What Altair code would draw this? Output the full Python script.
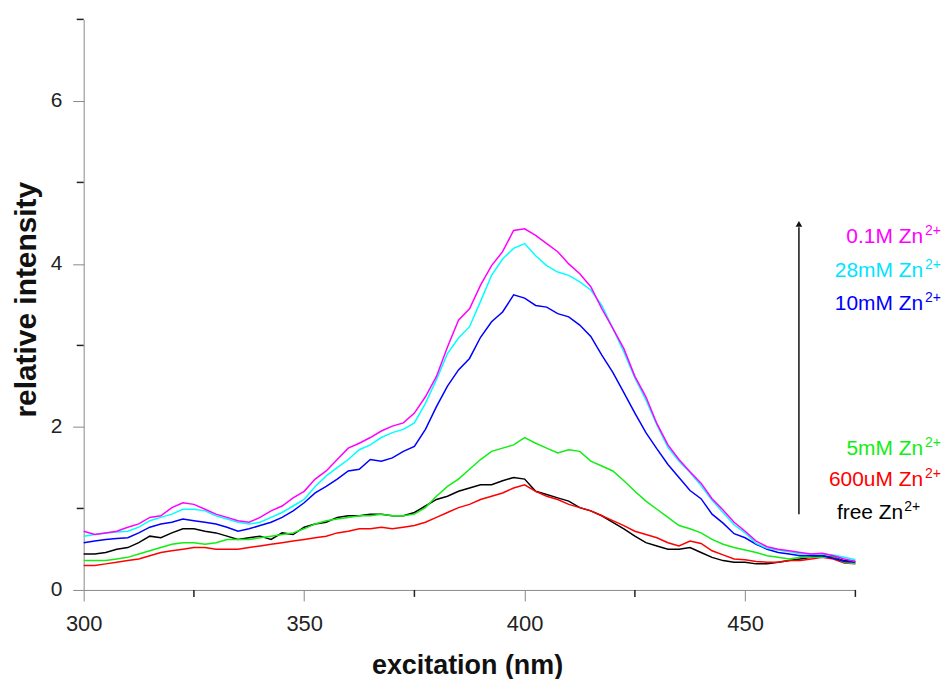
import altair as alt
import pandas as pd

# ---- data (excitation wavelength in nm, relative intensity) ----
wavelength = [300, 302.5, 305, 307.5, 310, 312.5, 315, 317.5, 320, 322.5, 325, 327.5,
              330, 332.5, 335, 337.5, 340, 342.5, 345, 347.5, 350, 352.5, 355, 357.5,
              360, 362.5, 365, 367.5, 370, 372.5, 375, 377.5, 380, 382.5, 385, 387.5,
              390, 392.5, 395, 397.5, 400, 402.5, 405, 407.5, 410, 412.5, 415, 417.5,
              420, 422.5, 425, 427.5, 430, 432.5, 435, 437.5, 440, 442.5, 445, 447.5,
              450, 452.5, 455, 457.5, 460, 462.5, 465, 467.5, 470, 472.5, 475]

free_zn = [0.44, 0.44, 0.46, 0.50, 0.52, 0.58, 0.66, 0.64, 0.70, 0.75, 0.75, 0.72,
           0.70, 0.66, 0.62, 0.64, 0.66, 0.62, 0.70, 0.68, 0.77, 0.81, 0.83, 0.89,
           0.91, 0.91, 0.93, 0.93, 0.91, 0.91, 0.95, 1.03, 1.11, 1.15, 1.21, 1.25,
           1.29, 1.29, 1.34, 1.38, 1.36, 1.21, 1.17, 1.13, 1.09, 1.01, 0.97, 0.91,
           0.83, 0.75, 0.66, 0.58, 0.54, 0.50, 0.50, 0.52, 0.46, 0.40, 0.36, 0.34,
           0.34, 0.32, 0.32, 0.34, 0.36, 0.38, 0.40, 0.42, 0.40, 0.36, 0.35]
zn_600uM = [0.30, 0.30, 0.32, 0.34, 0.36, 0.38, 0.42, 0.46, 0.48, 0.50, 0.52, 0.52,
            0.50, 0.50, 0.50, 0.52, 0.54, 0.56, 0.58, 0.60, 0.62, 0.64, 0.66, 0.70,
            0.72, 0.75, 0.75, 0.77, 0.75, 0.77, 0.79, 0.83, 0.89, 0.95, 1.01, 1.05,
            1.11, 1.15, 1.19, 1.25, 1.29, 1.21, 1.15, 1.11, 1.05, 1.01, 0.97, 0.91,
            0.85, 0.79, 0.72, 0.68, 0.64, 0.58, 0.54, 0.60, 0.57, 0.48, 0.43, 0.38,
            0.37, 0.35, 0.34, 0.34, 0.36, 0.36, 0.38, 0.40, 0.38, 0.33, 0.32]
zn_5mM = [0.36, 0.36, 0.36, 0.38, 0.40, 0.44, 0.48, 0.52, 0.56, 0.58, 0.58, 0.56,
          0.58, 0.62, 0.62, 0.62, 0.64, 0.66, 0.68, 0.70, 0.75, 0.81, 0.85, 0.87,
          0.89, 0.91, 0.91, 0.93, 0.91, 0.91, 0.93, 1.01, 1.15, 1.27, 1.36, 1.48,
          1.60, 1.70, 1.74, 1.78, 1.87, 1.80, 1.74, 1.68, 1.72, 1.70, 1.58, 1.52,
          1.46, 1.34, 1.21, 1.09, 0.99, 0.89, 0.79, 0.75, 0.70, 0.62, 0.56, 0.52,
          0.49, 0.46, 0.42, 0.40, 0.38, 0.40, 0.40, 0.40, 0.40, 0.34, 0.32]
zn_10mM = [0.58, 0.60, 0.62, 0.63, 0.64, 0.70, 0.77, 0.81, 0.83, 0.87, 0.85, 0.83,
           0.81, 0.77, 0.72, 0.75, 0.79, 0.83, 0.89, 0.97, 1.07, 1.19, 1.27, 1.36,
           1.46, 1.48, 1.60, 1.58, 1.62, 1.70, 1.76, 1.97, 2.25, 2.50, 2.70, 2.84,
           3.10, 3.29, 3.41, 3.62, 3.58, 3.49, 3.47, 3.39, 3.35, 3.25, 3.11, 2.88,
           2.67, 2.42, 2.17, 1.93, 1.73, 1.54, 1.38, 1.22, 1.12, 0.93, 0.82, 0.69,
           0.64, 0.56, 0.50, 0.46, 0.44, 0.42, 0.42, 0.42, 0.39, 0.35, 0.34]
zn_28mM = [0.66, 0.68, 0.70, 0.71, 0.72, 0.77, 0.85, 0.89, 0.93, 0.99, 0.99, 0.97,
           0.91, 0.87, 0.83, 0.81, 0.83, 0.89, 0.95, 1.03, 1.11, 1.27, 1.40, 1.50,
           1.60, 1.72, 1.78, 1.87, 1.93, 1.97, 2.05, 2.29, 2.58, 2.90, 3.09, 3.23,
           3.54, 3.86, 4.06, 4.19, 4.25, 4.10, 3.98, 3.90, 3.86, 3.78, 3.68, 3.49,
           3.21, 2.92, 2.60, 2.33, 2.02, 1.75, 1.58, 1.44, 1.28, 1.10, 0.95, 0.80,
           0.70, 0.57, 0.51, 0.49, 0.47, 0.44, 0.44, 0.44, 0.43, 0.40, 0.37]
zn_01M = [0.72, 0.68, 0.70, 0.72, 0.77, 0.81, 0.89, 0.91, 1.01, 1.07, 1.05, 0.99,
          0.93, 0.89, 0.85, 0.83, 0.89, 0.97, 1.03, 1.13, 1.21, 1.36, 1.46, 1.60,
          1.74, 1.80, 1.87, 1.95, 2.01, 2.05, 2.17, 2.37, 2.62, 2.98, 3.31, 3.45,
          3.74, 3.98, 4.15, 4.41, 4.43, 4.35, 4.25, 4.15, 4.00, 3.88, 3.72, 3.45,
          3.21, 2.96, 2.62, 2.37, 2.04, 1.78, 1.60, 1.45, 1.31, 1.12, 0.98, 0.83,
          0.72, 0.60, 0.53, 0.50, 0.48, 0.46, 0.44, 0.45, 0.42, 0.38, 0.35]

series_names = ["free", "600uM", "5mM", "10mM", "28mM", "0.1M"]
series_values = [free_zn, zn_600uM, zn_5mM, zn_10mM, zn_28mM, zn_01M]
series_colors = ["#000000", "#ff0000", "#11ee11", "#0000ff", "#00ffff", "#ff00ff"]

# annotation labels (text) and their anchor positions in data units
label_text = ["0.1M Zn", "28mM Zn", "10mM Zn", "5mM Zn", "600uM Zn", "free Zn"]
label_colors = ["#ff00ff", "#00e5ff", "#0000ff", "#11ee11", "#ff0000", "#000000"]
label_x = [490.35, 490.35, 490.35, 490.35, 490.35, 485.84]
label_y = [4.251, 3.836, 3.433, 1.661, 1.270, 0.867]
sup_x = [490.8, 490.8, 490.8, 490.8, 490.8, 486.1]
sup_y = [4.349, 3.934, 3.531, 1.759, 1.368, 0.965]
arrow_x = 462.2
arrow_y0 = 0.928
arrow_y1 = 4.45
arrow_tip = 4.49

x_major = [300, 350, 400, 450]
x_minor = [325, 375, 425, 475]
y_major = [0, 2, 4, 6]
y_minor = [1, 3, 5, 7]

W, H = 775, 573
FONT = "Liberation Sans"

xscale = alt.Scale(domain=[300, 475], nice=False, zero=False)
yscale = alt.Scale(domain=[0, 7], nice=False, zero=False)

x_axis = alt.Axis(values=x_major, tickSize=11, labelFontSize=22, labelPadding=13, format="d",
                  labelFlush=False, grid=False,
                  title="excitation (nm)", titleFontSize=27, titleFontWeight="bold",
                  titleX=385, titleY=84, titleAlign="center", titleBaseline="alphabetic",
                  labelColor="#222", titleColor="#111")
y_axis = alt.Axis(values=y_major, tickSize=11, labelFontSize=21, labelPadding=11, format="d",
                  labelFlush=False, grid=False,
                  title="relative intensity", titleFontSize=30, titleFontWeight="bold",
                  titleX=-48, titleY=281, titleAngle=270, titleAlign="center",
                  titleBaseline="alphabetic", labelColor="#222", titleColor="#111")


def X(field="wavelength"):
    return alt.X(f"{field}:Q", scale=xscale, axis=x_axis)


def Y(field="intensity"):
    return alt.Y(f"{field}:Q", scale=yscale, axis=y_axis)


layers = []
for name, vals, col in zip(series_names, series_values, series_colors):
    df = pd.DataFrame({"wavelength": wavelength, "intensity": vals})
    layers.append(alt.Chart(df).mark_line(color=col, strokeWidth=1.5).encode(x=X(), y=Y()))

# minor ticks
xm = pd.DataFrame({"wavelength": x_minor})
layers.append(alt.Chart(xm).mark_rule(color="#222", strokeWidth=1.5).encode(
    x=X(), y=alt.value(H), y2=alt.value(H + 7)))
ym = pd.DataFrame({"intensity": y_minor})
layers.append(alt.Chart(ym).mark_rule(color="#222", strokeWidth=1.5).encode(
    y=Y(), x=alt.value(0), x2=alt.value(-7)))

# arrow
arr = pd.DataFrame({"wavelength": [arrow_x], "intensity": [arrow_y0], "y1": [arrow_y1],
                    "tip": [arrow_tip]})
layers.append(alt.Chart(arr).mark_rule(color="#111", strokeWidth=1.5).encode(
    x=X(), y=Y(), y2="y1:Q"))
layers.append(alt.Chart(arr).mark_point(shape="triangle-up", filled=True, color="#111",
                                        size=45, opacity=1).encode(x=X(), y=Y("tip")))

# labels
lab = pd.DataFrame({"t": label_text, "c": label_colors, "wavelength": label_x,
                    "intensity": label_y, "sx": sup_x, "sy": sup_y, "s": ["2+"] * 6})
layers.append(alt.Chart(lab).mark_text(align="right", baseline="alphabetic", font=FONT,
                                       fontSize=21).encode(
    x=X(), y=Y(), text="t:N", color=alt.Color("c:N", scale=None)))
layers.append(alt.Chart(lab).mark_text(align="left", baseline="alphabetic", font=FONT,
                                       fontSize=14).encode(
    x=X("sx"), y=Y("sy"), text="s:N", color=alt.Color("c:N", scale=None)))

chart = alt.layer(*layers).properties(
    width=W, height=H,
    autosize=alt.AutoSizeParams(type="none"),
    padding={"left": 76, "top": 10, "right": 86, "bottom": 90},
).configure_view(strokeWidth=0, stroke=None, fill="white").configure_axis(
    grid=False, domainColor="#222", tickColor="#222", domainWidth=1.5, tickWidth=1.5,
    labelFont=FONT, titleFont=FONT,
).configure(background="white", style={"cell": {"stroke": "transparent", "strokeWidth": 0}})

chart.save("out.html", embed_options={"renderer": "svg", "actions": False})
